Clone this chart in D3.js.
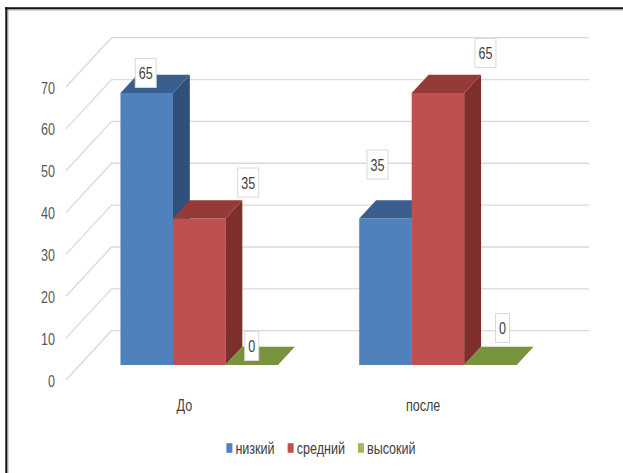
<!DOCTYPE html>
<html>
<head>
<meta charset="utf-8">
<script src="https://cdn.jsdelivr.net/npm/d3@7"></script>
<style>
  html, body { margin: 0; padding: 0; background: #ffffff; }
  svg { display: block; }
  text { font-family: "Liberation Sans", Arial, sans-serif; }
</style>
</head>
<body>
<svg id="chart" width="623" height="473"></svg>
<script>
// Categories, series and values
const categories = ["До", "после"];
const seriesNames = ["низкий", "средний", "высокий"];
const lowValues = [65, 35];
const midValues = [35, 65];
const highValues = [0, 0];
const yTicks = [0, 10, 20, 30, 40, 50, 60, 70];

const seriesValues = [lowValues, midValues, highValues];

// Face colours: front, top, side, legend swatch
const frontColors = ["#4F81BD", "#C0504D", "#77933C"];
const topColors = ["#3A5F8E", "#963A37", "#77933C"];
const sideColors = ["#30507C", "#7E2E2C", "#5E7530"];
const legendColors = ["#4F81BD", "#C0504D", "#9BBB59"];

// Data label offsets from the top-front centre of each bar [series][category]
const labelNudge = [
  [[-1, -20], [-8, -54]],
  [[49, -36], [47.5, -40]],
  [[0, -19], [12, -37]]
];

// Condensed lettering: regular face squeezed horizontally
const FONT_SIZE = 17;
const SQUEEZE = 0.74;

const svg = d3.select("#chart");

// 3D geometry: front plane and depth offset of the back wall
const frontLeft = 66, frontRight = 543.5;
const depthDX = 45.5, depthDY = 49.3;
const barD0 = 0.304, barD1 = 0.675;

const y = d3.scaleLinear().domain([0, 70]).range([380, 87]);
const x = d3.scaleBand().domain(categories).range([frontLeft, frontRight]).paddingInner(0).paddingOuter(0);
const xs = d3.scaleBand().domain(seriesNames).range([0, x.bandwidth()]).paddingInner(0).paddingOuter(0.774);

function proj(px, v, d) {
  return [px + depthDX * d, y(v) - depthDY * d];
}
function poly(pts) {
  return "M" + pts.map(p => p[0].toFixed(2) + "," + p[1].toFixed(2)).join("L") + "Z";
}
function squeezeText(sel, dx) {
  sel.attr("x", 0).attr("transform", `translate(${dx},0) scale(${SQUEEZE},1)`);
}

// Frame
svg.append("line").attr("x1", 6).attr("x2", 623).attr("y1", 10).attr("y2", 10)
  .attr("stroke", "#b0b0b0").attr("stroke-width", 1);
svg.append("line").attr("x1", 8).attr("x2", 8).attr("y1", 9).attr("y2", 473)
  .attr("stroke", "#b0b0b0").attr("stroke-width", 1);
svg.append("line").attr("x1", 5).attr("x2", 623).attr("y1", 8.2).attr("y2", 8.2)
  .attr("stroke", "#111").attr("stroke-width", 2);
svg.append("line").attr("x1", 6.3).attr("x2", 6.3).attr("y1", 7.2).attr("y2", 473)
  .attr("stroke", "#111").attr("stroke-width", 2);

// Walls: diagonal side-wall gridlines and back-wall gridlines
const grid = svg.append("g").attr("stroke", "#D9D9D9").attr("stroke-width", 1.3).attr("fill", "none");
yTicks.forEach(t => {
  const a = proj(frontLeft, t, 0), b = proj(frontLeft, t, 1), c = proj(frontRight, t, 1);
  grid.append("path").attr("d", `M${a[0]},${a[1]}L${b[0]},${b[1]}L${c[0]},${c[1]}`);
});

// Y axis labels
const yAxis = d3.axisLeft(y).tickValues(yTicks).tickSize(0).tickPadding(11);
const gy = svg.append("g").attr("transform", `translate(${frontLeft},0)`).call(yAxis);
gy.select(".domain").remove();
gy.selectAll("text").attr("fill", "#595959").attr("font-size", FONT_SIZE)
  .attr("font-family", "'Liberation Sans', Arial, sans-serif")
  .attr("dy", "0.36em").call(squeezeText, -11);

// Category labels
const xAxis = d3.axisBottom(x).tickSize(0).tickPadding(0);
const gx = svg.append("g").attr("transform", "translate(-1,405)").call(xAxis);
gx.select(".domain").remove();
gx.selectAll("text").attr("fill", "#404040").attr("font-size", FONT_SIZE)
  .attr("font-family", "'Liberation Sans', Arial, sans-serif")
  .attr("y", 0).attr("dy", "0.36em").call(squeezeText, 0);

// Bars, drawn left to right so each bar covers its neighbour's side face
const bars = svg.append("g");
categories.forEach((cat, ci) => {
  seriesNames.forEach((s, si) => {
    const v = seriesValues[si][ci];
    const x0 = x(cat) + xs(s), x1 = x0 + xs.bandwidth();
    const g = bars.append("g");
    g.append("path").attr("fill", frontColors[si])
      .attr("d", poly([proj(x0, 0, barD0), proj(x1, 0, barD0), proj(x1, v, barD0), proj(x0, v, barD0)]));
    g.append("path").attr("fill", sideColors[si])
      .attr("d", poly([proj(x1, 0, barD0), proj(x1, 0, barD1), proj(x1, v, barD1), proj(x1, v, barD0)]));
    g.append("path").attr("fill", topColors[si])
      .attr("d", poly([proj(x0, v, barD0), proj(x1, v, barD0), proj(x1, v, barD1), proj(x0, v, barD1)]));
  });
});

// Data labels
const labels = svg.append("g");
categories.forEach((cat, ci) => {
  seriesNames.forEach((s, si) => {
    const v = seriesValues[si][ci];
    const cx = x(cat) + xs(s) + xs.bandwidth() / 2;
    const p = proj(cx, v, barD0);
    const lx = p[0] + labelNudge[si][ci][0], ly = p[1] + labelNudge[si][ci][1];
    const lg = labels.append("g").attr("transform", `translate(${lx},${ly})`);
    const rect = lg.append("rect").attr("fill", "#ffffff").attr("stroke", "#D9D9D9").attr("stroke-width", 1);
    const t = lg.append("text").attr("text-anchor", "middle").attr("dy", "0.36em")
      .attr("font-size", FONT_SIZE).attr("fill", "#404040").text(v).call(squeezeText, 0);
    const w = t.node().getComputedTextLength() * SQUEEZE;
    rect.attr("x", -w / 2 - 3.5).attr("y", -14.5).attr("width", w + 7).attr("height", 29);
  });
});

// Legend
const legend = svg.append("g");
let lx = 0;
seriesNames.forEach((s, i) => {
  const it = legend.append("g").attr("transform", `translate(${lx},0)`);
  it.append("rect").attr("x", 0).attr("y", -4.8).attr("width", 6).attr("height", 9.6).attr("fill", legendColors[i]);
  const t = it.append("text").attr("dy", "0.36em").attr("font-size", FONT_SIZE)
    .attr("fill", "#404040").text(s).call(squeezeText, 9);
  lx += 9 + t.node().getComputedTextLength() * SQUEEZE + 13;
});
const legendWidth = lx - 13;
legend.attr("transform", `translate(${321 - legendWidth / 2},448)`);
</script>
</body>
</html>
